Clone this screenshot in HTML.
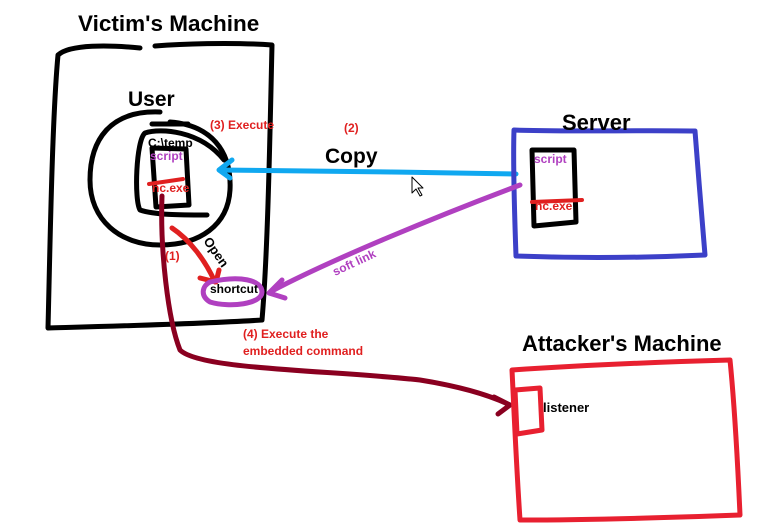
<!DOCTYPE html>
<html><head><style>body{margin:0;background:#fff}svg{display:block}text{font-family:"Liberation Sans",sans-serif;font-weight:bold}</style></head>
<body>
<svg width="771" height="531" viewBox="0 0 771 531" xmlns="http://www.w3.org/2000/svg" fill="none" stroke-linecap="round" stroke-linejoin="round">
<path d="M140,48 C110,45 70,44 58,55 C52,120 50,250 48,328 C120,326 200,324 262,320 C268,250 270,130 272,45 C230,42 180,44 155,46" stroke="#000" stroke-width="5"/>
<text x="78" y="31" font-size="22.5" fill="#000" stroke="none">Victim's Machine</text>
<text x="128" y="106" font-size="21" fill="#000" stroke="none">User</text>
<path d="M160,112 C110,110 90,140 90,180 C90,220 120,245 160,245 C200,245 228,225 230,190 C232,150 210,125 170,122" stroke="#000" stroke-width="5"/>
<path d="M152,124 L188,124 M145,133 C136,140 134,200 140,210 C155,215 180,215 207,215 M145,133 C160,128 200,130 224,160" stroke="#000" stroke-width="5"/>
<path d="M152,148 L186,149 L189,205 L156,207 Z" stroke="#000" stroke-width="5"/>
<text x="148" y="147" font-size="12" fill="#000" stroke="none">C:\temp</text>
<text x="150" y="160" font-size="12" fill="#b040c0" stroke="none">script</text>
<path d="M149,184 L183,179" stroke="#e02020" stroke-width="4"/>
<text x="152" y="192" font-size="12" fill="#e02020" stroke="none">nc.exe</text>
<text x="210" y="129" font-size="12" fill="#e02020" stroke="none">(3) Execute</text>
<text x="344" y="132" font-size="12" fill="#e02020" stroke="none">(2)</text>
<text x="325" y="163" font-size="21" fill="#000" stroke="none">Copy</text>
<path d="M516,174 C420,172 300,171 220,170 M232,160 L219,170 L230,178" stroke="#10a8f0" stroke-width="5"/>
<path d="M514,130 C560,132 640,130 695,131 C698,170 702,220 705,255 C640,258 570,258 516,256 C514,200 513,160 514,130" stroke="#3c40c8" stroke-width="5"/>
<text x="562" y="130" font-size="22" fill="#000" stroke="none">Server</text>
<path d="M532,150 L574,150 L576,222 L534,226 Z" stroke="#000" stroke-width="5"/>
<text x="534" y="163" font-size="12" fill="#b040c0" stroke="none">script</text>
<path d="M532,202 L582,200" stroke="#e02020" stroke-width="4"/>
<text x="535" y="210" font-size="12" fill="#e02020" stroke="none">nc.exe</text>
<path d="M172,228 C190,240 205,260 215,282 M200,278 L216,282 L219,270" stroke="#e02020" stroke-width="5"/>
<text x="165" y="260" font-size="12" fill="#e02020" stroke="none">(1)</text>
<text x="0" y="0" font-size="13" fill="#000" stroke="none" transform="translate(203,241) rotate(55)">Open</text>
<path d="M210,282 C240,275 262,280 262,292 C262,304 230,308 210,302 C200,296 202,286 210,282" stroke="#b040c0" stroke-width="5"/>
<text x="210" y="293" font-size="12" fill="#000" stroke="none">shortcut</text>
<path d="M520,185 C440,215 330,260 270,292 M282,280 L269,293 L285,298" stroke="#b040c0" stroke-width="5"/>
<text x="0" y="0" font-size="12" fill="#b040c0" stroke="none" transform="translate(335,276) rotate(-25)">soft link</text>
<path d="M162,196 C160,250 168,320 180,350 C200,370 330,370 420,380 C470,388 495,398 508,404 M494,397 L510,405 L498,414" stroke="#8a0020" stroke-width="5"/>
<text x="243" y="338" font-size="12" fill="#e02020" stroke="none">(4) Execute the</text>
<text x="243" y="355" font-size="12" fill="#e02020" stroke="none">embedded command</text>
<text x="522" y="351" font-size="22" fill="#000" stroke="none">Attacker's Machine</text>
<path d="M512,370 C570,366 660,362 730,360 C735,410 738,470 740,515 C660,518 580,520 520,520 C516,460 514,410 512,370" stroke="#e82030" stroke-width="5"/>
<path d="M515,390 L540,388 L542,430 L517,434 Z" stroke="#e82030" stroke-width="5"/>
<text x="543" y="412" font-size="13" fill="#000" stroke="none">listener</text>
<path d="M412,177 L412,193 L416,189 L420,196 L422,195 L418,188 L423,188 Z" stroke="#000" stroke-width="1" fill="#fff"/>
</svg>
</body></html>
